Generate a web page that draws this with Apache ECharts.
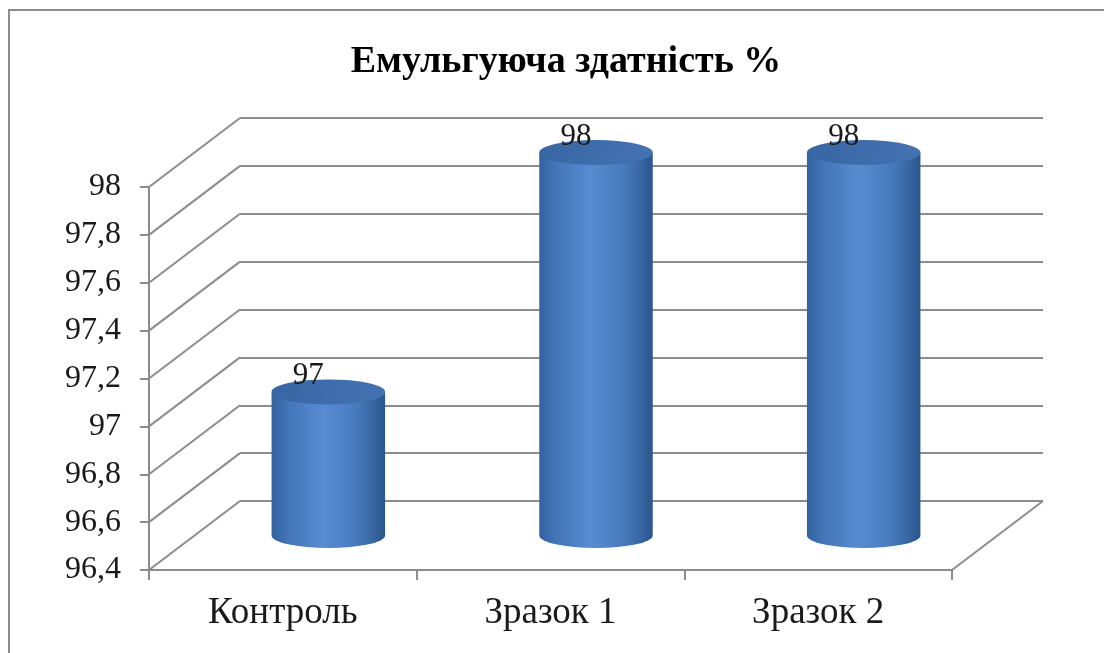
<!DOCTYPE html>
<html>
<head>
<meta charset="utf-8">
<style>
  html, body { margin: 0; padding: 0; background: #ffffff; }
  #chart { width: 1104px; height: 653px; }
</style>
<script src="https://cdn.jsdelivr.net/npm/echarts@6/dist/echarts.min.js"></script>
</head>
<body>
<div id="chart"></div>
<script>
// Chart data
const titleText = 'Емульгуюча здатність %';
const categories = ['Контроль', 'Зразок 1', 'Зразок 2'];
const values = [97, 98, 98];
const yTicks = [96.4, 96.6, 96.8, 97, 97.2, 97.4, 97.6, 97.8, 98];

const yMin = yTicks[0];
const yMax = yTicks[yTicks.length - 1];
const yStep = 0.2;

// Depth of the 3D box (back wall offset from the front plane)
const DEPTH_X = 91;
const DEPTH_Y = -69;

const GRID_COLOR = '#8c8c8c';
const SERIF = '"Liberation Serif", "DejaVu Serif", serif';

const chart = echarts.init(document.getElementById('chart'), null, { renderer: 'canvas' });

function fmt(v) {
  return String(Math.round(v * 10) / 10).replace('.', ',');
}

// Side wall lines + right floor edge, drawn from the front plane to the back wall
function renderWalls(params, api) {
  const cs = params.coordSys;
  const v = api.value(0);
  const y = api.coord([0, v])[1];
  const x0 = cs.x;
  const children = [{
    type: 'line',
    shape: { x1: x0, y1: y, x2: x0 + DEPTH_X, y2: y + DEPTH_Y },
    style: { stroke: GRID_COLOR, lineWidth: 2 }
  }];
  if (params.dataIndex === 0) {
    const xr = cs.x + cs.width;
    children.push({
      type: 'line',
      shape: { x1: xr, y1: y, x2: xr + DEPTH_X, y2: y + DEPTH_Y },
      style: { stroke: GRID_COLOR, lineWidth: 2 }
    });
  }
  return { type: 'group', children: children };
}

// Cylinder standing at mid-depth of the box
function renderCylinder(params, api) {
  const idx = api.value(0);
  const val = api.value(1);
  const base = api.coord([idx, yMin]);
  const top = api.coord([idx, val]);
  const band = api.size([1, 0])[0];
  const rx = band * 0.212;
  const ry = 12.5;
  const cx = base[0] + DEPTH_X / 2;
  const by = base[1] + DEPTH_Y / 2;
  const ty = top[1] + DEPTH_Y / 2;

  const body = 'M' + (cx - rx) + ' ' + ty +
    ' L' + (cx - rx) + ' ' + by +
    ' A' + rx + ' ' + ry + ' 0 0 0 ' + (cx + rx) + ' ' + by +
    ' L' + (cx + rx) + ' ' + ty + ' Z';
  const cap = 'M' + (cx - rx) + ' ' + ty +
    ' A' + rx + ' ' + ry + ' 0 1 1 ' + (cx + rx) + ' ' + ty +
    ' A' + rx + ' ' + ry + ' 0 1 1 ' + (cx - rx) + ' ' + ty + ' Z';

  return {
    type: 'group',
    children: [
      {
        type: 'path',
        shape: { pathData: body },
        style: {
          fill: {
            type: 'linear', x: 0, y: 0, x2: 1, y2: 0,
            colorStops: [
              { offset: 0, color: '#3462a0' },
              { offset: 0.15, color: '#4375b8' },
              { offset: 0.45, color: '#588cd0' },
              { offset: 0.75, color: '#477abd' },
              { offset: 1, color: '#2b568d' }
            ]
          }
        }
      },
      {
        type: 'path',
        shape: { pathData: cap },
        style: {
          fill: {
            type: 'linear', x: 0, y: 0, x2: 1, y2: 1,
            colorStops: [
              { offset: 0, color: '#3866a4' },
              { offset: 1, color: '#4572b0' }
            ]
          }
        }
      },
      {
        type: 'text',
        x: cx - 20,
        y: ty - 16,
        style: {
          text: String(val),
          fill: '#1a1a1a',
          font: '31px ' + SERIF,
          align: 'center',
          verticalAlign: 'middle'
        }
      }
    ]
  };
}

const option = {
  backgroundColor: '#ffffff',
  animation: false,
  title: {
    text: titleText,
    left: 561,
    top: 38,
    textAlign: 'center',
    textStyle: { fontFamily: SERIF, fontWeight: 'bold', fontSize: 38, color: '#000000' }
  },
  graphic: [{
    type: 'rect',
    shape: { x: 9, y: 10, width: 1200, height: 800 },
    style: { fill: null, stroke: '#8a8a8a', lineWidth: 2 },
    silent: true
  }],
  grid: [
    { left: 149, right: 152, top: 187, bottom: 83 },
    { left: 149 + DEPTH_X, right: 152 - DEPTH_X, top: 187 + DEPTH_Y, bottom: 83 - DEPTH_Y }
  ],
  xAxis: [
    {
      type: 'category', gridIndex: 0, data: categories,
      axisLine: { lineStyle: { color: GRID_COLOR, width: 2 } },
      axisTick: { show: true, length: 10, lineStyle: { color: GRID_COLOR, width: 2 } },
      axisLabel: { fontFamily: SERIF, fontSize: 37, color: '#1a1a1a', margin: 25 },
      splitLine: { show: false }
    },
    {
      type: 'category', gridIndex: 1, data: categories,
      axisLine: { show: false }, axisTick: { show: false }, axisLabel: { show: false },
      splitLine: { show: false }
    }
  ],
  yAxis: [
    {
      type: 'value', gridIndex: 0, min: yMin, max: yMax, interval: yStep,
      axisLine: { show: true, lineStyle: { color: GRID_COLOR, width: 2 } },
      axisTick: { show: true, length: 9, lineStyle: { color: GRID_COLOR, width: 2 } },
      axisLabel: { fontFamily: SERIF, fontSize: 32, color: '#1a1a1a', margin: 28, formatter: fmt },
      splitLine: { show: false }
    },
    {
      type: 'value', gridIndex: 1, min: yMin, max: yMax, interval: yStep,
      axisLine: { show: false }, axisTick: { show: false }, axisLabel: { show: false },
      splitLine: { show: true, lineStyle: { color: GRID_COLOR, width: 2 } }
    }
  ],
  series: [
    {
      type: 'custom',
      xAxisIndex: 0, yAxisIndex: 0,
      renderItem: renderWalls,
      data: yTicks.map(function (t) { return [t]; }),
      encode: { y: 0 },
      silent: true,
      z: 1
    },
    {
      type: 'custom',
      xAxisIndex: 0, yAxisIndex: 0,
      renderItem: renderCylinder,
      data: values.map(function (v, i) { return [i, v]; }),
      encode: { x: 0, y: 1 },
      clip: false,
      z: 5
    }
  ]
};

chart.setOption(option);
</script>
</body>
</html>
